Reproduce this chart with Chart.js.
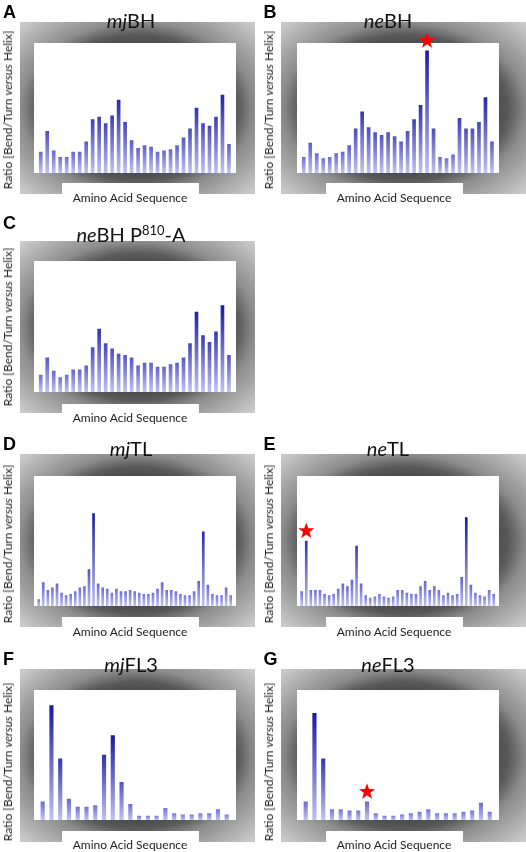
<!DOCTYPE html>
<html>
<head>
<meta charset="utf-8">
<script src="https://cdn.jsdelivr.net/npm/chart.js@4.4.1/dist/chart.umd.min.js"></script>
<style>
    body { margin: 0; background: #fff; width: 526px; height: 852px; overflow: hidden; position: relative; font-family: Lato, "Open Sans", sans-serif; color: #111; }
    .panel { position: absolute; width: 263px; }
    .panel canvas { position: absolute; left: 0; top: 0; }
    .letter { position: absolute; font: bold 18px "Liberation Sans", Arial, sans-serif; line-height: 18px; color: #000; }
    .title { position: absolute; font-size: 20px; line-height: 20px; white-space: nowrap; transform: translateX(-50%); }
    .title sup { font-size: 13px; vertical-align: 0; position: relative; top: -7px; }
    .ylab, .xlab { position: absolute; font-size: 12px; line-height: 12px; white-space: nowrap; color: #222; }
    .ylab { transform: translate(-50%, -50%) rotate(-90deg); }
    .xlab { transform: translate(-50%, -50%); }
</style>
</head>
<body>
<script>
// residue positions (categories)
const bhResidues = [1, 2, 3, 4, 5, 6, 7, 8, 9, 10, 11, 12, 13, 14, 15, 16, 17, 18, 19, 20, 21, 22, 23, 24, 25, 26, 27, 28, 29, 30];
const tlResidues = [1, 2, 3, 4, 5, 6, 7, 8, 9, 10, 11, 12, 13, 14, 15, 16, 17, 18, 19, 20, 21, 22, 23, 24, 25, 26, 27, 28, 29, 30,
    31, 32, 33, 34, 35, 36, 37, 38, 39, 40, 41, 42, 43];
const fl3Residues = [1, 2, 3, 4, 5, 6, 7, 8, 9, 10, 11, 12, 13, 14, 15, 16, 17, 18, 19, 20, 21, 22];

// ratio bend/turn vs helix (relative units)
const mjBH = [16, 32, 17, 12, 12, 16, 16, 24, 41, 43, 38, 44, 56, 39, 25, 19, 21, 20, 16, 17, 18, 21, 27, 34, 50, 38, 36, 43, 60, 22];
const neBH = [12, 23, 15, 11, 12, 15, 16, 21, 34, 47, 35, 31, 29, 31, 28, 24, 32, 41, 52, 94, 34, 12, 11, 14, 42, 34, 34, 39, 58, 24];
const neBH_P810A = [13, 26, 16, 11, 13, 17, 17, 20, 34, 48, 37, 33, 29, 28, 26, 20, 22, 22, 19, 19, 21, 22, 26, 37, 61, 43, 38, 46, 66, 28];
const mjTL = [5, 18, 12, 14, 17, 10, 8, 9, 11, 14, 15, 28, 71, 17, 14, 13, 10, 13, 11, 11, 12, 11, 10, 9, 9, 10, 13, 18, 12, 12,
    11, 9, 8, 8, 11, 19, 57, 16, 9, 8, 8, 14, 8];
const neTL = [11, 50, 12, 12, 12, 9, 8, 9, 13, 17, 15, 20, 46, 17, 8, 6, 7, 9, 7, 6, 7, 12, 12, 10, 9, 9, 15, 19, 12, 15,
    12, 8, 10, 8, 9, 22, 68, 16, 10, 8, 7, 12, 9];
const mjFL3 = [14, 88, 47, 16, 10, 10, 11, 50, 65, 29, 12, 3, 3, 3, 9, 5, 4, 4, 5, 5, 8, 4];
const neFL3 = [14, 82, 47, 8, 8, 7, 7, 14, 5, 3, 3, 4, 5, 6, 8, 5, 5, 5, 6, 7, 13, 6];

const yLabel = 'Ratio [Bend/Turn <i>versus</i> Helix]';
const xLabel = 'Amino Acid Sequence';

// geometry
const colL = { left: 0, frameX: [20, 255], innerX: [34, 236], boxX: [62, 199], titleX: 131, letterX: 3, ylabX: 7.5, xlabX: 130 };
const colR = { left: 263, frameX: [18, 264], innerX: [34, 236], boxX: [63, 200], titleX: 125, letterX: 0.5, ylabX: 6, xlabX: 131 };
const rows = [
    { top: 0, h: 210, frameY: [22, 194], innerY: [43, 173], boxY: 183, letterBase: 18, titleBase: 28, ylabY: 110, xlabY: 198 },
    { top: 210, h: 210, frameY: [31, 203], innerY: [51, 182], boxY: 194, letterBase: 19, titleBase: 32, ylabY: 117, xlabY: 208 },
    { top: 420, h: 210, frameY: [34, 207], innerY: [56, 186], boxY: 197, letterBase: 30, titleBase: 36, ylabY: 124, xlabY: 212 },
    { top: 630, h: 222, frameY: [39, 212], innerY: [60, 190], boxY: 201, letterBase: 35, titleBase: 42, ylabY: 132, xlabY: 215 }
];
const barsBH = { chartX: [37.5, 232.2], thickness: 3 };
const barsTL = { chartX: [36.4, 233], thickness: 2 };
const barsFL = { chartX: [38.3, 231.1], thickness: 3.5 };

const panels = [
    { letter: 'A', title: '<i>mj</i>BH', labels: bhResidues, values: mjBH, col: colL, row: rows[0], bars: barsBH, star: -1 },
    { letter: 'B', title: '<i>ne</i>BH', labels: bhResidues, values: neBH, col: colR, row: rows[0], bars: barsBH, star: 19 },
    { letter: 'C', title: '<i>ne</i>BH P<sup>810</sup>-A', labels: bhResidues, values: neBH_P810A, col: colL, row: rows[1], bars: barsBH, star: -1 },
    { letter: 'D', title: '<i>mj</i>TL', labels: tlResidues, values: mjTL, col: colL, row: rows[2], bars: barsTL, star: -1 },
    { letter: 'E', title: '<i>ne</i>TL', labels: tlResidues, values: neTL, col: colR, row: rows[2], bars: barsTL, star: 1 },
    { letter: 'F', title: '<i>mj</i>FL3', labels: fl3Residues, values: mjFL3, col: colL, row: rows[3], bars: barsFL, star: -1 },
    { letter: 'G', title: '<i>ne</i>FL3', labels: fl3Residues, values: neFL3, col: colR, row: rows[3], bars: barsFL, star: 7 }
];

// grey shaded frame + white plot box + white label box
const framePlugin = {
    id: 'frame',
    beforeDraw(chart, args, opts) {
        const ctx = chart.ctx;
        const c = opts.col, r = opts.row;
        const fx0 = c.frameX[0], fx1 = c.frameX[1], fy0 = r.frameY[0], fy1 = r.frameY[1];
        ctx.save();
        ctx.translate((fx0 + fx1) / 2, (fy0 + fy1) / 2);
        ctx.scale((fx1 - fx0) / 2, (fy1 - fy0) / 2);
        const g = ctx.createRadialGradient(0, 0, 0, 0, 0, 1.42);
        g.addColorStop(0, '#303030');
        g.addColorStop(0.5, '#454545');
        g.addColorStop(0.6, '#5a5a5a');
        g.addColorStop(0.7, '#8c8c8c');
        g.addColorStop(1, '#d0d0d0');
        ctx.fillStyle = g;
        ctx.fillRect(-1, -1, 2, 2);
        ctx.restore();
        ctx.save();
        ctx.fillStyle = '#fff';
        ctx.fillRect(c.innerX[0], r.innerY[0], c.innerX[1] - c.innerX[0], r.innerY[1] - r.innerY[0]);
        ctx.fillRect(c.boxX[0], r.boxY, c.boxX[1] - c.boxX[0], r.h - r.boxY);
        ctx.restore();
    }
};

// red star above a highlighted bar
const starPlugin = {
    id: 'star',
    afterDatasetsDraw(chart, args, opts) {
        if (opts.index < 0) return;
        const bar = chart.getDatasetMeta(0).data[opts.index];
        const ctx = chart.ctx;
        const cx = bar.x, cy = bar.y - 10, R = 8.5, r = 3.4;
        ctx.save();
        ctx.beginPath();
        for (let i = 0; i < 10; i++) {
            const a = -Math.PI / 2 + i * Math.PI / 5;
            const rad = i % 2 === 0 ? R : r;
            ctx.lineTo(cx + rad * Math.cos(a), cy + rad * Math.sin(a));
        }
        ctx.closePath();
        ctx.fillStyle = '#ff0000';
        ctx.fill();
        ctx.restore();
    }
};

function barColor(context) {
    const chart = context.chart;
    const area = chart.chartArea;
    if (!area) return '#7a7ad8';
    const y = chart.scales.y;
    const v = context.raw;
    const t = Math.min(1, v / 65);
    const top = 'rgb(' + Math.round(130 - 104 * t) + ',' + Math.round(130 - 104 * t) + ',' + Math.round(222 - 62 * t) + ')';
    const g = chart.ctx.createLinearGradient(0, y.getPixelForValue(0), 0, y.getPixelForValue(v));
    g.addColorStop(0, 'rgb(192,194,238)');
    g.addColorStop(1, top);
    return g;
}

panels.forEach(function (p) {
    const div = document.createElement('div');
    div.className = 'panel';
    div.style.left = p.col.left + 'px';
    div.style.top = p.row.top + 'px';
    div.style.height = p.row.h + 'px';
    document.body.appendChild(div);

    const canvas = document.createElement('canvas');
    canvas.width = 263;
    canvas.height = p.row.h;
    canvas.style.width = '263px';
    canvas.style.height = p.row.h + 'px';
    div.appendChild(canvas);

    const letter = document.createElement('div');
    letter.className = 'letter';
    letter.textContent = p.letter;
    letter.style.left = p.col.letterX + 'px';
    letter.style.top = (p.row.letterBase - 15.2) + 'px';
    div.appendChild(letter);

    const title = document.createElement('div');
    title.className = 'title';
    title.innerHTML = p.title;
    title.style.left = p.col.titleX + 'px';
    title.style.top = (p.row.titleBase - 17.7) + 'px';
    div.appendChild(title);

    const ylab = document.createElement('div');
    ylab.className = 'ylab';
    ylab.innerHTML = yLabel;
    ylab.style.left = p.col.ylabX + 'px';
    ylab.style.top = p.row.ylabY + 'px';
    div.appendChild(ylab);

    const xlab = document.createElement('div');
    xlab.className = 'xlab';
    xlab.textContent = xLabel;
    xlab.style.left = p.col.xlabX + 'px';
    xlab.style.top = p.row.xlabY + 'px';
    div.appendChild(xlab);

    new Chart(canvas.getContext('2d'), {
        type: 'bar',
        data: {
            labels: p.labels,
            datasets: [{
                data: p.values,
                backgroundColor: barColor,
                borderWidth: 0,
                barThickness: p.bars.thickness
            }]
        },
        options: {
            responsive: false,
            animation: false,
            devicePixelRatio: 1,
            layout: {
                padding: {
                    left: p.bars.chartX[0],
                    right: 263 - p.bars.chartX[1],
                    top: p.row.innerY[0],
                    bottom: p.row.h - p.row.innerY[1]
                }
            },
            scales: {
                x: { display: false, offset: true },
                y: { display: false, min: 0, max: 100 }
            },
            plugins: {
                legend: { display: false },
                tooltip: { enabled: false },
                frame: { col: p.col, row: p.row },
                star: { index: p.star }
            }
        },
        plugins: [framePlugin, starPlugin]
    });
});
</script>
</body>
</html>
